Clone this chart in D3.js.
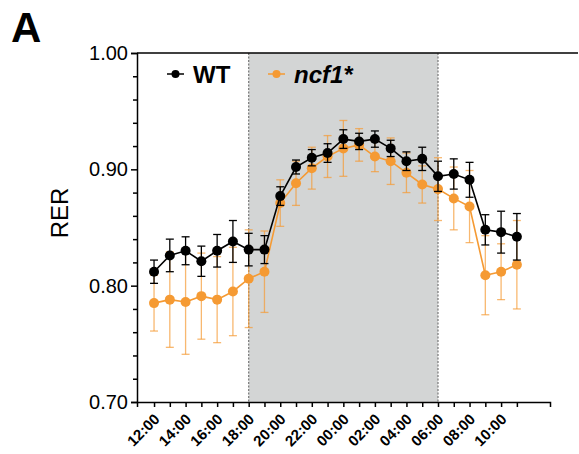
<!DOCTYPE html>
<meta charset="utf-8">
<body style="margin:0;background:#fff">
<script src="https://cdn.jsdelivr.net/npm/d3@7"></script>
<script>

var width = 579,
    height = 454;

// hours after 12:00, one point per hour
var hours = d3.range(24);
var hourLabels = ["12:00","14:00","16:00","18:00","20:00","22:00","00:00","02:00","04:00","06:00","08:00","10:00"];

var wtMean = [0.812,0.826,0.830,0.821,0.830,0.838,0.831,0.831,0.877,0.902,0.910,0.914,
              0.926,0.924,0.926,0.918,0.907,0.909,0.894,0.896,0.891,0.848,0.846,0.842];
var wtErr  = [0.010,0.014,0.012,0.013,0.014,0.018,0.014,0.012,0.008,0.006,0.007,0.008,
              0.008,0.007,0.007,0.007,0.008,0.010,0.013,0.013,0.015,0.013,0.018,0.020];
var koMean = [0.785,0.788,0.786,0.791,0.788,0.795,0.806,0.812,0.871,0.888,0.901,0.911,
              0.918,0.921,0.911,0.907,0.897,0.887,0.883,0.875,0.868,0.809,0.812,0.818];
var koErr  = [0.024,0.041,0.045,0.037,0.037,0.038,0.042,0.035,0.020,0.019,0.018,0.018,
              0.024,0.014,0.013,0.020,0.017,0.016,0.027,0.027,0.031,0.034,0.024,0.038];

var darkStart = 6, darkEnd = 18; // 18:00 -> 06:00

var x = d3.scaleLinear().domain([-1.08, 25.1]).range([137, 550]);
var y = d3.scaleLinear().domain([0.70, 1.00]).range([402, 53]);

var svg = d3.select("body").append("svg")
    .attr("width", width)
    .attr("height", height)
    .style("font-family", "'Liberation Sans', Arial, sans-serif");

// dark phase
svg.append("rect")
    .attr("x", x(darkStart)).attr("y", y(1))
    .attr("width", x(darkEnd) - x(darkStart))
    .attr("height", y(0.70) - y(1))
    .attr("fill", "#d3d5d5");
svg.selectAll(".dark-edge").data([darkStart, darkEnd]).enter().append("line")
    .attr("x1", d => x(d)).attr("x2", d => x(d))
    .attr("y1", y(1)).attr("y2", y(0.70))
    .attr("stroke", "#777").attr("stroke-width", 1.2)
    .attr("stroke-dasharray", "2,1.5");

// top frame line
svg.append("line")
    .attr("x1", 137).attr("x2", 578)
    .attr("y1", y(1)).attr("y2", y(1))
    .attr("stroke", "#000").attr("stroke-width", 1.5);

// y axis
var yAxis = svg.append("g")
    .attr("transform", "translate(137,0)")
    .call(d3.axisLeft(y).tickValues([0.70, 0.80, 0.90, 1.00]).tickFormat(d3.format(".2f")).tickSize(6).tickPadding(3));
yAxis.selectAll("text").style("font-size", "20px").attr("fill", "#000");
svg.append("g")
    .attr("transform", "translate(137,0)")
    .call(d3.axisLeft(y).tickValues(d3.range(0.72, 1.0, 0.02).filter(v => Math.abs(v * 10 - Math.round(v * 10)) > 0.01)).tickFormat("").tickSize(4))
    .select(".domain").remove();

// x axis
var xAxis = svg.append("g")
    .attr("transform", "translate(0,402)")
    .call(d3.axisBottom(x).tickValues(hours).tickSize(5).tickFormat(""));
svg.selectAll(".tick line, .domain").attr("stroke", "#000").attr("stroke-width", 1.5);
xAxis.selectAll(".tick")
  .filter(d => d % 2 === 0)
  .append("text")
    .attr("transform", "translate(6,18) rotate(-45)")
    .attr("text-anchor", "end")
    .attr("fill", "#000")
    .style("font-size", "15px")
    .style("font-weight", "bold")
    .text(d => hourLabels[d / 2]);

svg.append("text")
    .attr("transform", "translate(68,213) rotate(-90)")
    .attr("text-anchor", "middle")
    .style("font-size", "24px")
    .text("RER");

svg.append("text")
    .attr("x", 11).attr("y", 42)
    .style("font-size", "42px")
    .style("font-weight", "bold")
    .text("A");

function drawSeries(mean, err, color, barColor) {
  var g = svg.append("g");
  var bars = g.selectAll("g.bar").data(hours).enter().append("g")
      .attr("stroke", barColor).attr("stroke-width", 1.3);
  bars.append("line")
      .attr("x1", d => x(d)).attr("x2", d => x(d))
      .attr("y1", d => y(mean[d] - err[d])).attr("y2", d => y(mean[d] + err[d]));
  bars.append("line")
      .attr("x1", d => x(d) - 4).attr("x2", d => x(d) + 4)
      .attr("y1", d => y(mean[d] + err[d])).attr("y2", d => y(mean[d] + err[d]));
  bars.append("line")
      .attr("x1", d => x(d) - 4).attr("x2", d => x(d) + 4)
      .attr("y1", d => y(mean[d] - err[d])).attr("y2", d => y(mean[d] - err[d]));
  g.append("path")
      .datum(hours)
      .attr("fill", "none").attr("stroke", color).attr("stroke-width", 1.6)
      .attr("d", d3.line().x(d => x(d)).y(d => y(mean[d])));
  g.selectAll("circle").data(hours).enter().append("circle")
      .attr("cx", d => x(d)).attr("cy", d => y(mean[d]))
      .attr("r", 5).attr("fill", color);
}

drawSeries(koMean, koErr, "#f59a33", "rgba(245,154,51,0.7)");
drawSeries(wtMean, wtErr, "#000", "#000");

// legend
var legend = [
  {name: "WT", color: "#000", x: 167, italic: false},
  {name: "ncf1*", color: "#f59a33", x: 268, italic: true}
];
var lg = svg.selectAll(".legend").data(legend).enter().append("g")
    .attr("transform", d => "translate(" + d.x + ",74)");
lg.append("line").attr("x1", 0).attr("x2", 17).attr("stroke", d => d.color).attr("stroke-width", 1.5);
lg.append("circle").attr("cx", 8.5).attr("r", 4).attr("fill", d => d.color);
lg.append("text")
    .attr("x", 26).attr("y", 9)
    .style("font-size", "24px").style("font-weight", "bold")
    .style("font-style", d => d.italic ? "italic" : "normal")
    .text(d => d.name);

</script>
